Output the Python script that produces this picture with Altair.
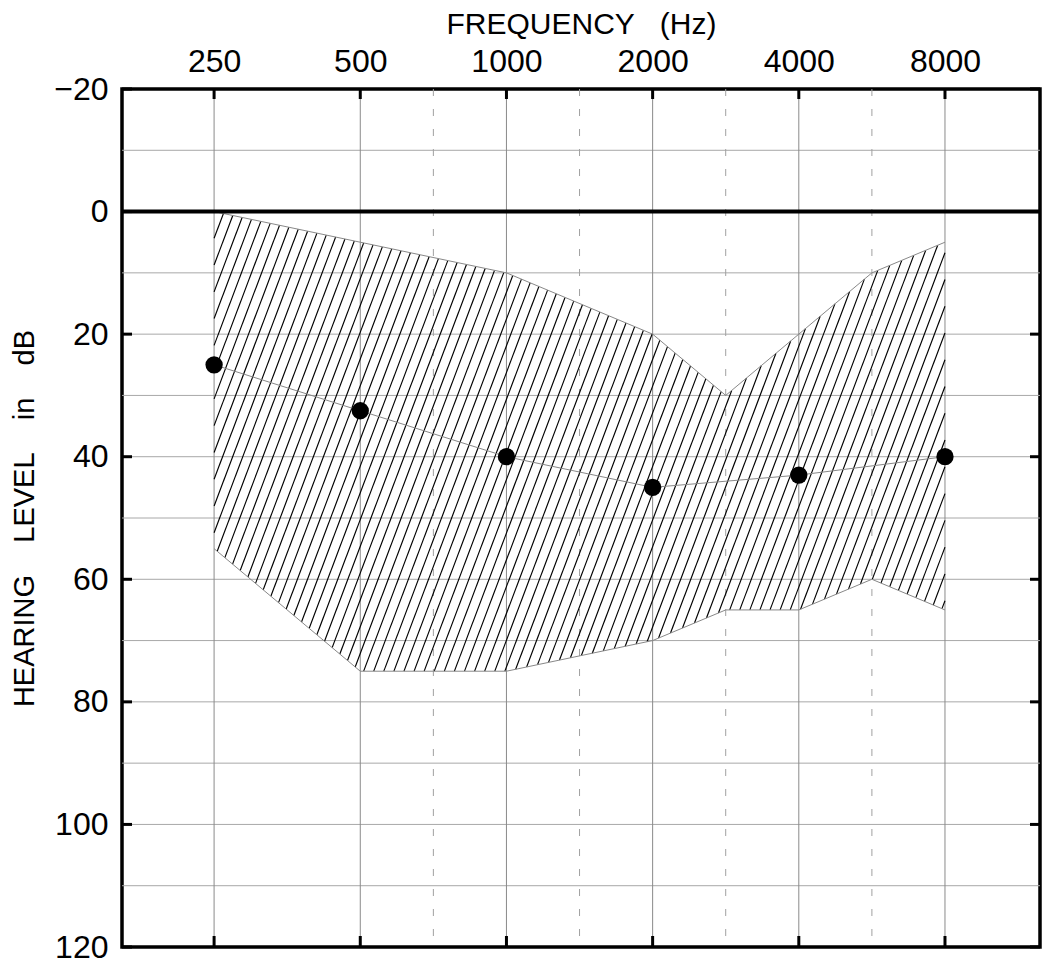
import numpy as np
import pandas as pd
import altair as alt

# ---------------- data ----------------
# audiogram frequency positions (octave index from 250 Hz; inter-octave freqs sit mid-way)
freq_pos = {250: 0, 500: 1, 750: 1.5, 1000: 2, 1500: 2.5, 2000: 3,
            3000: 3.5, 4000: 4, 6000: 4.5, 8000: 5}

tick_freqs = [250, 500, 1000, 2000, 4000, 8000]
tick_labels = ["250", "500", "1000", "2000", "4000", "8000"]
half_freqs = [750, 1500, 3000, 6000]
db_ticks = [-20, 0, 20, 40, 60, 80, 100, 120]
db_grid = [-10, 10, 20, 30, 40, 50, 60, 70, 80, 90, 100, 110]

band_freqs = [250, 500, 1000, 2000, 3000, 4000, 6000, 8000]
band_upper = [0, 5, 10, 20, 30, 20, 10, 5]
band_lower = [55, 75, 75, 70, 65, 65, 60, 65]

pt_freqs = [250, 500, 1000, 2000, 4000, 8000]
pt_levels = [25, 32.5, 40, 45, 43, 40]

FONT = "Liberation Sans"
NB = "\u00a0"
W, H = 918, 858

# ---------------- tables ----------------
band_df = pd.DataFrame({"f": band_freqs, "pos": [freq_pos[f] for f in band_freqs],
                        "upper": band_upper, "lower": band_lower})
pts_df = pd.DataFrame({"f": pt_freqs, "pos": [freq_pos[f] for f in pt_freqs],
                       "db": pt_levels})
oct_df = pd.DataFrame({"pos": [freq_pos[f] for f in tick_freqs]})
half_df = pd.DataFrame({"pos": [freq_pos[f] for f in half_freqs]})
hgrid_df = pd.DataFrame({"db": db_grid})
dbt_df = pd.DataFrame({"db": db_ticks})
zero_df = pd.DataFrame({"db": [0]})

# hatch lines clipped to the band (decorative fill pattern)
bpos = np.array(band_df["pos"], float)
bup = np.array(band_upper, float)
blo = np.array(band_lower, float)
slope_a = 0.0158   # octaves per dB along a hatch line
step_u = 0.069     # spacing between hatch lines (octaves)
dgrid = np.arange(-2, 82, 0.01)
segs = []
for u in np.arange(0, 6.6, step_u):
    o = u - dgrid * slope_a
    inside = (o >= 0) & (o <= 5)
    oc = np.clip(o, 0, 5)
    inside &= (dgrid >= np.interp(oc, bpos, bup)) & (dgrid <= np.interp(oc, bpos, blo))
    idx = np.flatnonzero(inside)
    if idx.size == 0:
        continue
    breaks = np.flatnonzero(np.diff(idx) > 1)
    starts = np.r_[idx[0], idx[breaks + 1]]
    ends = np.r_[idx[breaks], idx[-1]]
    for s, e in zip(starts, ends):
        if e - s < 2:
            continue
        segs.append({"o1": o[s], "d1": dgrid[s], "o2": o[e], "d2": dgrid[e]})
hatch_df = pd.DataFrame(segs)

# ---------------- scales & axes ----------------
xs = alt.Scale(domain=[-0.63, 5.65], nice=False, zero=False)
ys = alt.Scale(domain=[-20, 120], reverse=True, nice=False, zero=False)

label_expr = "[" + ",".join("'%s'" % t for t in tick_labels) + "][datum.value]"

x_axis = alt.Axis(orient="top", values=[freq_pos[f] for f in tick_freqs],
                  labelExpr=label_expr, tickSize=0, domain=False, grid=False,
                  labelFont=FONT, labelFontSize=32, labelColor="black", labelPadding=11,
                  title="FREQUENCY" + NB * 3 + "(Hz)", titleFont=FONT, titleFontSize=30,
                  titleFontWeight="normal", titleColor="black", titlePadding=6)
y_axis = alt.Axis(orient="left", values=db_ticks, tickSize=0, domain=False, grid=False,
                  labelFont=FONT, labelFontSize=32, labelColor="black", labelPadding=14,
                  title="HEARING" + NB * 4 + "LEVEL" + NB * 4 + "in" + NB * 4 + "dB",
                  titleFont=FONT, titleFontSize=29, titleFontWeight="normal",
                  titleColor="black", titlePadding=14)


def X(field):
    return alt.X(field, scale=xs, axis=x_axis)


def Y(field):
    return alt.Y(field, scale=ys, axis=y_axis)


# ---------------- layers ----------------
hgrid = alt.Chart(hgrid_df).mark_rule(color="#a8a8a8", strokeWidth=1).encode(y=Y("db:Q"))
vgrid = alt.Chart(oct_df).mark_rule(color="#8a8a8a", strokeWidth=1).encode(x=X("pos:Q"))
vdash = alt.Chart(half_df).mark_rule(color="#a0a0a0", strokeWidth=1,
                                     strokeDash=[7, 13]).encode(x=X("pos:Q"))

hatch = alt.Chart(hatch_df).mark_rule(color="black", strokeWidth=1.15).encode(
    x=X("o1:Q"), y=Y("d1:Q"), x2="o2:Q", y2="d2:Q")

upper_line = alt.Chart(band_df).mark_line(color="#888888", strokeWidth=1).encode(
    x=X("pos:Q"), y=Y("upper:Q"))
lower_line = alt.Chart(band_df).mark_line(color="#888888", strokeWidth=1).encode(
    x=X("pos:Q"), y=Y("lower:Q"))

zero_line = alt.Chart(zero_df).mark_rule(color="black", strokeWidth=4).encode(y=Y("db:Q"))

data_line = alt.Chart(pts_df).mark_line(color="#888888", strokeWidth=1).encode(
    x=X("pos:Q"), y=Y("db:Q"))
points = alt.Chart(pts_df).mark_circle(color="black", size=300, opacity=1).encode(
    x=X("pos:Q"), y=Y("db:Q"))

tick_top = alt.Chart(oct_df).mark_rule(color="black", strokeWidth=3).encode(
    x=X("pos:Q"), y=alt.value(0), y2=alt.value(10))
tick_bot = alt.Chart(oct_df).mark_rule(color="black", strokeWidth=3).encode(
    x=X("pos:Q"), y=alt.value(H - 11), y2=alt.value(H))
tick_left = alt.Chart(dbt_df).mark_rule(color="black", strokeWidth=3).encode(
    y=Y("db:Q"), x=alt.value(0), x2=alt.value(10))
tick_right = alt.Chart(dbt_df).mark_rule(color="black", strokeWidth=3).encode(
    y=Y("db:Q"), x=alt.value(W - 10), x2=alt.value(W))

chart = alt.layer(
    hgrid, vgrid, vdash, hatch, upper_line, lower_line, zero_line,
    data_line, points, tick_top, tick_bot, tick_left, tick_right
).properties(
    width=W, height=H,
    autosize=alt.AutoSizeParams(type="none"),
    padding={"left": 114, "top": 81, "right": 2, "bottom": 17},
    background="white",
).configure_view(stroke="black", strokeWidth=3.5)

chart.save("out.html", embed_options={"renderer": "svg", "actions": False})
